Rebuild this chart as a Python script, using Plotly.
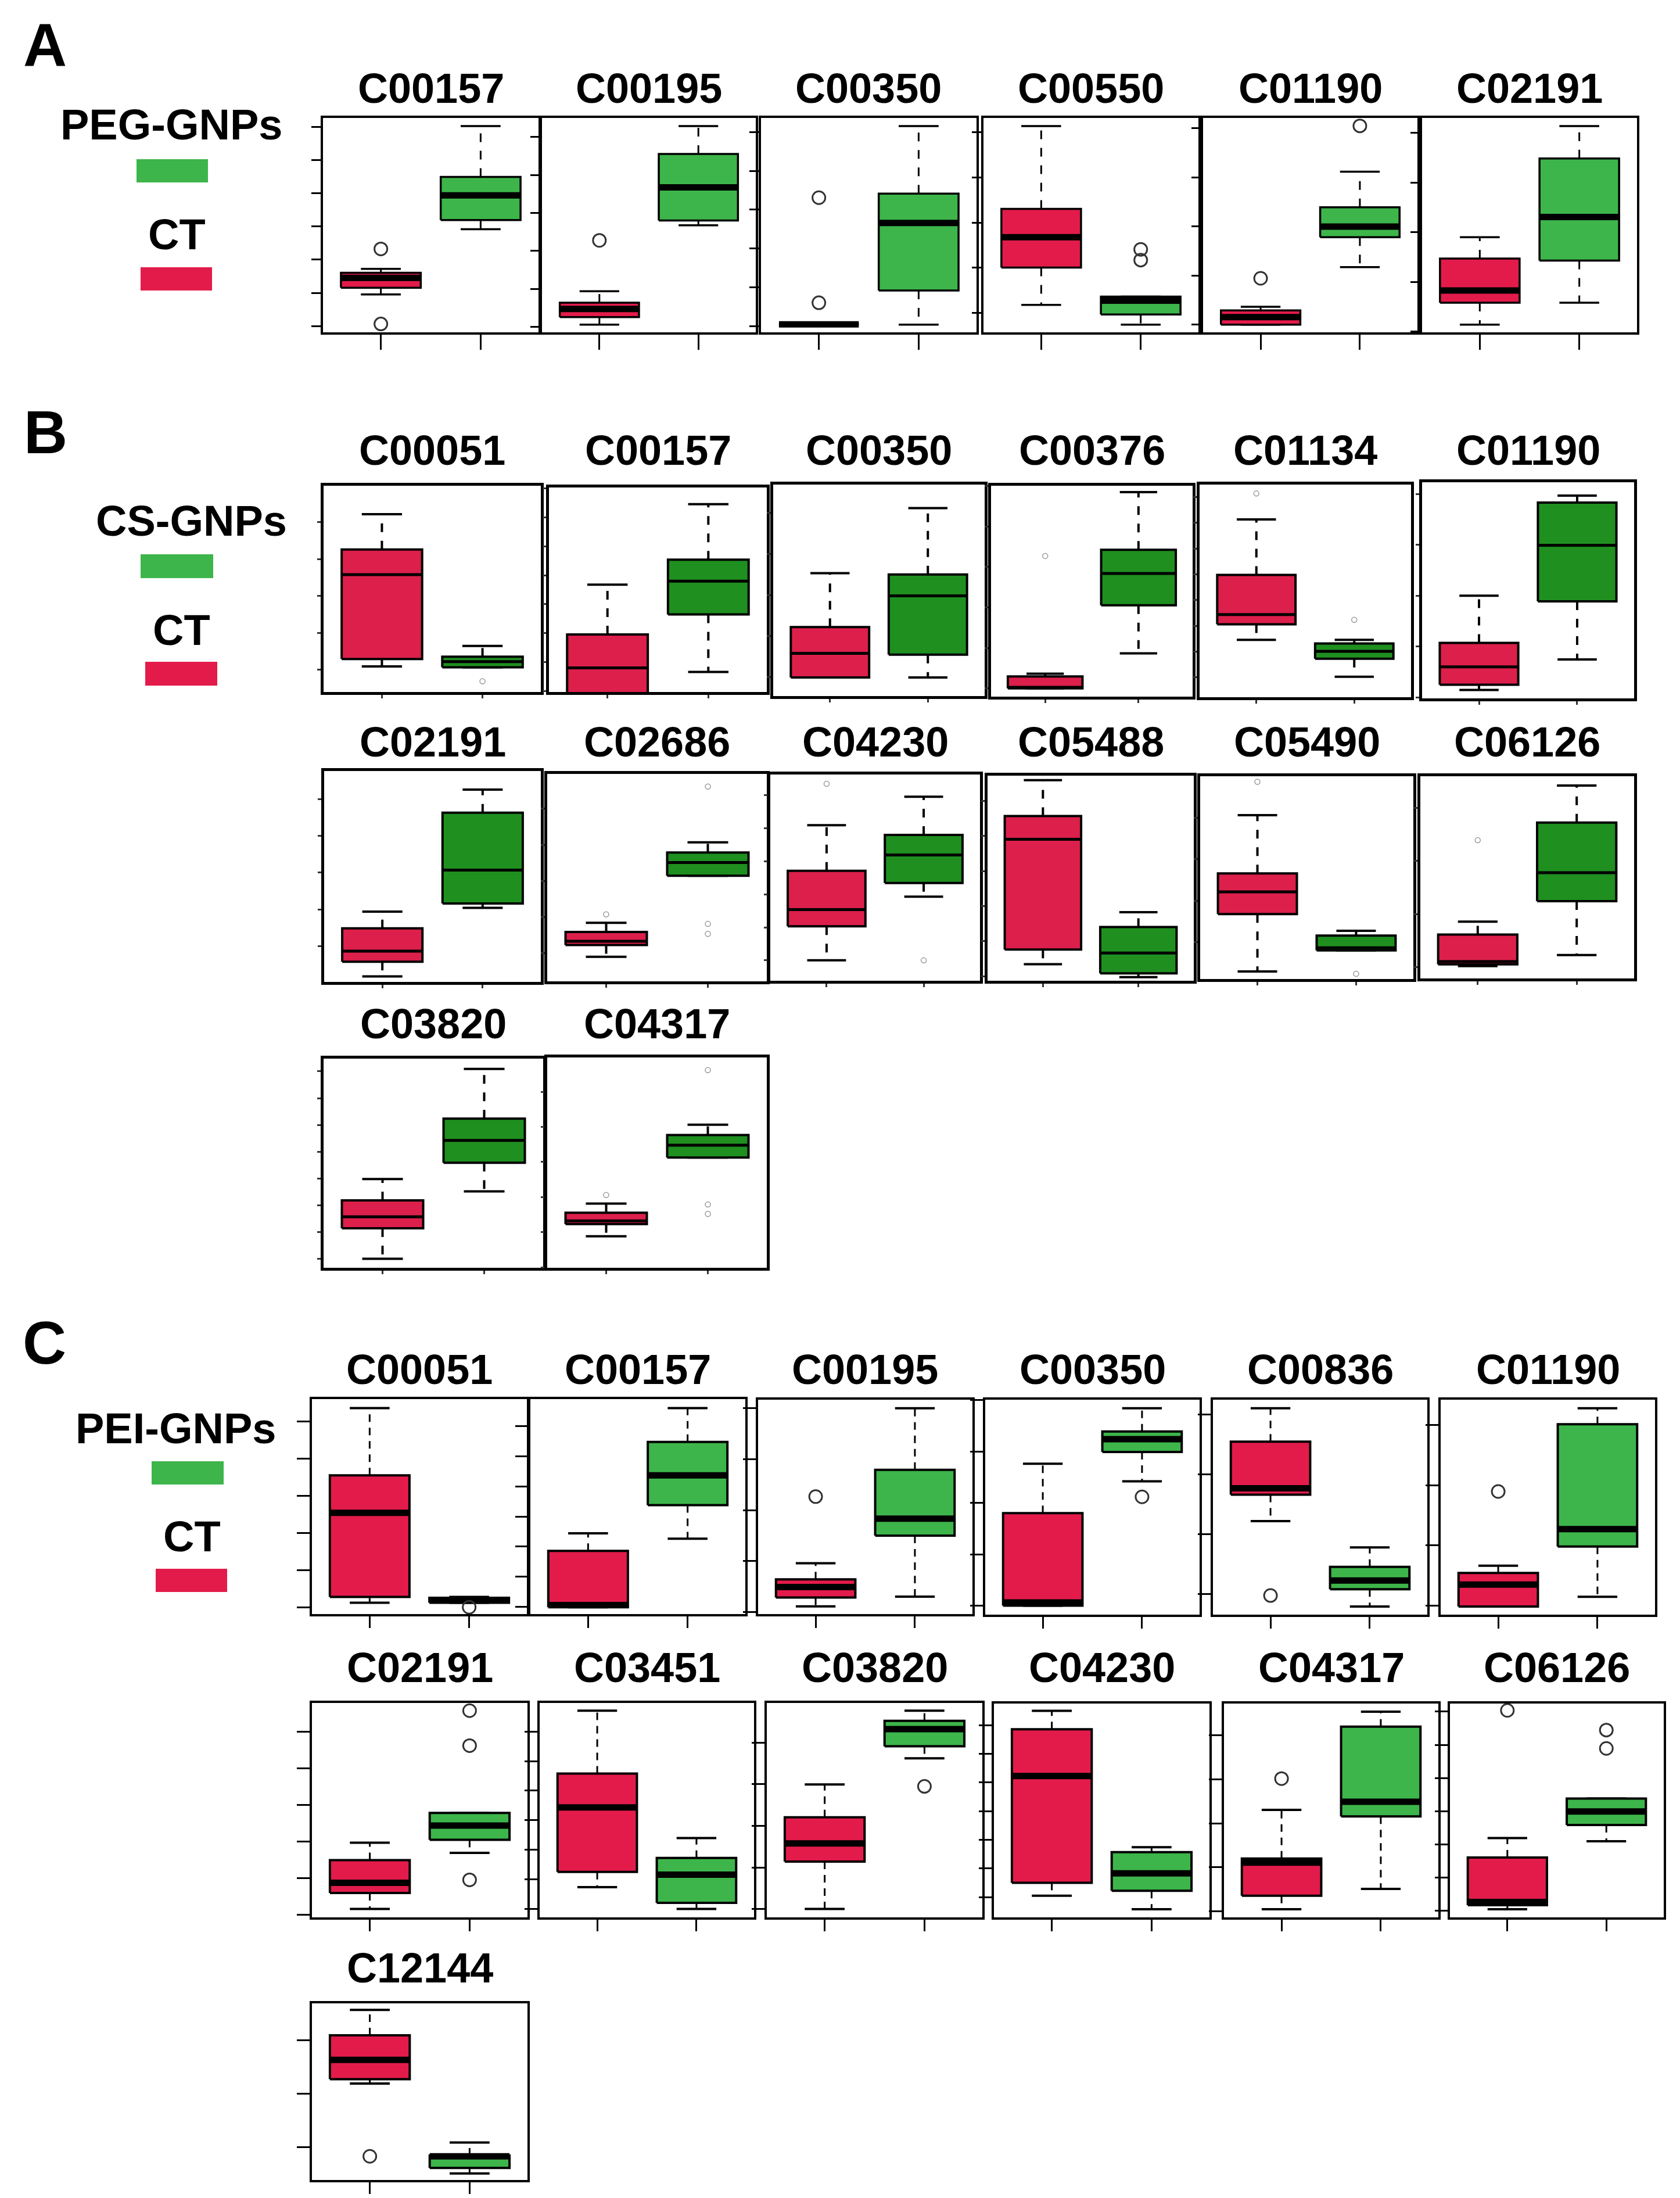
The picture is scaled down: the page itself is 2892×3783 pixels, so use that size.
import plotly.graph_objects as go

W, H = 2892, 3783

# ---------------- data ----------------
# values are read off the picture as % of each panel's y span
# box stats: [lower whisker, Q1, median, Q3, upper whisker]
A_names = ["C00157", "C00195", "C00350", "C00550", "C01190", "C02191"]
A_ct = [[17.7, 20.8, 25.4, 27.8, 29.6],
        [3.6, 7.1, 10.9, 13.8, 19.2],
        [3.7, 3.7, 3.7, 3.7, 3.7],
        [12.8, 30.2, 44.4, 57.6, 96.2],
        [3.6, 3.6, 7.1, 10.2, 11.9],
        [3.6, 13.8, 19.5, 34.4, 44.4]]
A_gnp = [[48.1, 52.4, 63.9, 72.5, 96.2],
         [49.9, 52.2, 67.6, 83.2, 96.2],
         [3.6, 19.5, 51.0, 64.7, 96.2],
         [3.6, 8.3, 14.8, 16.7, 16.7],
         [30.4, 44.4, 49.3, 58.3, 74.9],
         [13.8, 33.5, 53.8, 81.1, 96.2]]
A_ct_out = [[38.9, 3.9], [42.9], [62.8, 13.8], [], [25.2], []]
A_gnp_out = [[], [], [], [38.7, 33.7], [96.3], []]

B_names = ["C00051", "C00157", "C00350", "C00376", "C01134", "C01190",
           "C02191", "C02686", "C04230", "C05488", "C05490", "C06126",
           "C03820", "C04317"]
B_ct = [[12.4, 16.0, 56.9, 69.1, 86.2],
        [-10.0, -5.0, 11.8, 28.1, 52.5],
        [8.8, 8.8, 20.2, 32.6, 58.1],
        [3.9, 3.9, 4.4, 9.6, 10.9],
        [27.0, 34.3, 38.9, 57.5, 83.6],
        [3.9, 6.3, 14.6, 25.7, 47.5],
        [2.6, 9.6, 14.6, 25.4, 33.3],
        [11.8, 17.5, 19.3, 23.8, 28.2],
        [9.9, 26.4, 34.5, 53.3, 75.4],
        [8.1, 15.2, 69.0, 80.3, 97.8],
        [3.7, 32.0, 43.0, 52.1, 80.8],
        [6.1, 7.0, 8.3, 21.7, 28.1],
        [4.3, 18.9, 24.4, 32.2, 42.4],
        [15.0, 20.8, 22.3, 26.2, 30.5]]
B_gnp = [[12.0, 12.0, 14.7, 17.1, 22.3],
         [9.8, 37.9, 54.2, 64.7, 91.8],
         [8.8, 19.6, 47.4, 57.5, 88.9],
         [20.5, 43.3, 58.4, 69.6, 97.0],
         [9.6, 18.1, 21.6, 25.3, 27.0],
         [18.0, 44.9, 70.8, 90.6, 93.8],
         [35.1, 37.2, 53.0, 80.2, 91.2],
         [50.9, 50.9, 57.3, 62.1, 67.0],
         [40.8, 47.4, 61.0, 70.7, 89.2],
         [1.8, 3.6, 13.5, 26.2, 33.4],
         [14.1, 14.1, 15.4, 21.4, 23.8],
         [11.6, 38.2, 52.3, 77.1, 95.4],
         [36.5, 50.2, 60.9, 71.3, 95.1],
         [52.4, 52.4, 58.3, 63.1, 68.0]]
B_ct_out = [[], [], [], [66.7], [95.8], [], [], [32.3], [95.5], [], [97.3], [68.4], [], [34.6]]
B_gnp_out = [[5.2], [], [], [], [36.4], [], [], [93.9, 27.7, 22.9], [9.9], [], [2.6], [], [],
             [94.0, 30.1, 25.6]]

C_names = ["C00051", "C00157", "C00195", "C00350", "C00836", "C01190",
           "C02191", "C03451", "C03820", "C04230", "C04317", "C06126", "C12144"]
C_ct = [[5.3, 8.0, 47.1, 64.5, 95.8],
        [3.2, 3.2, 4.2, 29.4, 37.6],
        [3.6, 7.7, 12.6, 16.2, 23.7],
        [4.2, 4.2, 5.7, 47.2, 70.2],
        [43.5, 55.8, 58.8, 80.5, 96.0],
        [3.8, 3.8, 14.0, 19.4, 22.8],
        [3.9, 11.4, 16.1, 26.7, 34.8],
        [14.1, 21.2, 51.3, 67.1, 96.4],
        [3.9, 26.0, 34.5, 46.7, 62.0],
        [10.1, 16.2, 66.1, 88.0, 96.6],
        [3.8, 10.1, 25.6, 27.5, 50.3],
        [3.8, 5.7, 7.2, 28.0, 37.1],
        [54.6, 57.1, 68.0, 81.9, 96.3]]
C_gnp = [[5.3, 5.3, 6.6, 7.6, 8.0],
         [35.1, 50.7, 64.5, 80.1, 95.8],
         [8.1, 36.6, 44.5, 67.3, 96.0],
         [62.0, 75.7, 81.6, 85.2, 96.0],
         [3.8, 11.8, 15.9, 22.2, 31.3],
         [8.3, 31.7, 39.8, 88.6, 96.0],
         [30.1, 36.2, 42.8, 48.7, 48.7],
         [3.9, 6.8, 19.9, 27.7, 37.0],
         [74.2, 79.8, 87.8, 91.7, 96.4],
         [3.8, 12.4, 20.6, 30.5, 32.8],
         [13.3, 47.2, 54.1, 89.2, 96.2],
         [35.6, 43.2, 49.5, 55.6, 55.6],
         [3.7, 6.8, 13.4, 13.8, 21.2]]
C_ct_out = [[], [], [54.8], [], [8.9], [57.3], [], [], [], [], [64.9], [96.8], [13.4]]
C_gnp_out = [[3.2], [], [], [54.8], [], [], [96.4, 80.1, 17.5], [], [61.1], [], [], [87.6, 79.0], []]

# ---------------- layout geometry (pixels) ----------------
# frame = (x0, x1, y_top, y_bottom), plus the y of the panel title
A_frames = [(548, 919, 195, 564), (925, 1293, 195, 564), (1302, 1673, 195, 564),
            (1685, 2055, 195, 564), (2063, 2432, 195, 564), (2440, 2810, 195, 564)]
A_title_y = [153] * 6
A_ticks = [(2.9, 15.5), (2.6, 17.7), (2.9, 18.1), (9.1, 21.05), (3.6, 22.9), (0.3, 23.2)]

B_frames = [(549, 923, 828, 1183), (937, 1312, 831, 1183), (1323, 1687, 826, 1190),
            (1698, 2045, 828, 1191), (2057, 2421, 826, 1192), (2440, 2805, 822, 1194),
            (550, 923, 1319, 1682), (934, 1312, 1324, 1681), (1318, 1679, 1325, 1680),
            (1692, 2047, 1327, 1680), (2058, 2425, 1328, 1677), (2437, 2805, 1328, 1676),
            (549, 927, 1814, 2174), (934, 1312, 1812, 2174)]
B_title_y = [776] * 6 + [1278] * 6 + [1763] * 2
B_ticks = [(10.8, 17.9), (0.3, 14.2), (8.8, 19.5), (3.9, 19.2), (9.4, 12.1), (0.5, 23.5),
           (17.0, 17.4), (13.6, 17.4), (9.9, 16.0), (19.3, 17.1), (18.1, 20.5), (5.5, 26.3),
           (4.3, 12.8), (16.9, 16.7)]

C_frames = [(529, 899, 2400, 2770), (905, 1275, 2400, 2770), (1297, 1666, 2401, 2770),
            (1688, 2057, 2401, 2771), (2080, 2449, 2401, 2771), (2472, 2841, 2401, 2771),
            (529, 900, 2923, 3292), (921, 1290, 2923, 3292), (1312, 1683, 2923, 3292),
            (1703, 2074, 2924, 3292), (2099, 2468, 2924, 3292), (2488, 2856, 2924, 3292),
            (529, 900, 3440, 3744)]
C_title_y = [2358] * 6 + [2871] * 6 + [3388]
C_ticks = [(3.2, 17.3), (3.4, 14.0), (0.9, 23.8), (4.2, 23.9), (9.5, 27.9), (4.2, 28.0),
           (1.2, 17.1), (3.9, 13.8), (3.9, 19.4), (9.5, 13.4), (2.8, 20.6), (3.2, 15.5),
           (18.6, 30.2)]

RED = "#E31B4B"
GREEN = "#3DB54A"
STYLE_A = dict(green=GREEN, red=RED, box_w=3.5, med_w=11, whisk_w=3, dash="15px,15px",
               out_size=22, out_color="#333333", out_w=3, frame_w=4,
               ytick_len=16, xtick_len=26, tick_w=3, tick_color="#000000")
STYLE_B = dict(green="#1F8F1F", red="#DC1F4B", box_w=4, med_w=5, whisk_w=4, dash="15px,15px",
               out_size=9, out_color="#9a9a9a", out_w=1.5, frame_w=5,
               ytick_len=6, xtick_len=6, tick_w=3, tick_color="#333333")
STYLE_C = dict(STYLE_A, box_w=4, dash="13px,10px", ytick_len=22, xtick_len=20)

FONT = "Liberation Sans, Arial, sans-serif"
TEXT_SHIFT = 9  # plotly centres the text box, not the capitals

fig = go.Figure()
annotations = []
shapes = []
panel_no = [0]


def px(x):
    return x / W


def py(y):
    return 1 - y / H


def draw_box(ax, c, stats, fill, st):
    lo, q1, med, q3, hi = stats
    xa, ya = ax
    # whiskers (dashed)
    fig.add_trace(go.Scatter(x=[c, c, None, c, c], y=[q3, hi, None, q1, lo], mode="lines",
                             line=dict(color="black", width=st["whisk_w"], dash=st["dash"]),
                             xaxis=xa, yaxis=ya, hoverinfo="skip"))
    # staples
    fig.add_trace(go.Scatter(x=[c - 0.2, c + 0.2, None, c - 0.2, c + 0.2], y=[hi, hi, None, lo, lo],
                             mode="lines", line=dict(color="black", width=st["box_w"]),
                             xaxis=xa, yaxis=ya, hoverinfo="skip"))
    # box
    fig.add_trace(go.Scatter(x=[c - 0.4, c + 0.4, c + 0.4, c - 0.4, c - 0.4],
                             y=[q1, q1, q3, q3, q1], mode="lines", fill="toself",
                             fillcolor=fill, line=dict(color="black", width=st["box_w"]),
                             xaxis=xa, yaxis=ya, hoverinfo="skip"))
    # median
    fig.add_trace(go.Scatter(x=[c - 0.4, c + 0.4], y=[med, med], mode="lines",
                             line=dict(color="black", width=st["med_w"]),
                             xaxis=xa, yaxis=ya, hoverinfo="skip"))


def draw_out(ax, c, vals, st):
    if not vals:
        return
    fig.add_trace(go.Scatter(x=[c] * len(vals), y=vals, mode="markers",
                             marker=dict(symbol="circle-open", size=st["out_size"],
                                         color=st["out_color"],
                                         line=dict(width=st["out_w"], color=st["out_color"])),
                             xaxis=ax[0], yaxis=ax[1], hoverinfo="skip", cliponaxis=False))


def add_panel(name, frame, title_y, tick, ct, gnp, ct_out, gnp_out, st):
    panel_no[0] += 1
    k = panel_no[0]
    sfx = "" if k == 1 else str(k)
    ax = ("x" + sfx, "y" + sfx)
    x0, x1, y0, y1 = frame
    fig.layout["xaxis" + sfx] = dict(
        domain=[px(x0), px(x1)], range=[0.42, 2.58], anchor="y" + sfx,
        showline=True, linewidth=st["frame_w"], linecolor="black", mirror=True,
        ticks="outside", tickvals=[1, 2], ticklen=st["xtick_len"], tickwidth=st["tick_w"],
        tickcolor=st["tick_color"], showticklabels=False, showgrid=False, zeroline=False)
    fig.layout["yaxis" + sfx] = dict(
        domain=[py(y1), py(y0)], range=[0, 100], anchor="x" + sfx,
        showline=True, linewidth=st["frame_w"], linecolor="black", mirror=True,
        ticks="outside", tick0=tick[0], dtick=tick[1], ticklen=st["ytick_len"],
        tickwidth=st["tick_w"], tickcolor=st["tick_color"],
        showticklabels=False, showgrid=False, zeroline=False)
    draw_box(ax, 1, ct, st["red"], st)
    draw_box(ax, 2, gnp, st["green"], st)
    draw_out(ax, 1, ct_out, st)
    draw_out(ax, 2, gnp_out, st)
    label(name, (x0 + x1) / 2, title_y, 72)


def label(text, cx, cy, size):
    annotations.append(dict(text="<b>%s</b>" % text, x=px(cx), y=py(cy - TEXT_SHIFT),
                            xref="paper", yref="paper", showarrow=False,
                            xanchor="center", yanchor="middle",
                            font=dict(family=FONT, size=size, color="black")))


def swatch(x0, x1, y0, y1, color):
    shapes.append(dict(type="rect", xref="paper", yref="paper", x0=px(x0), x1=px(x1),
                       y0=py(y1), y1=py(y0), fillcolor=color, line=dict(width=0)))


def add_section(names, frames, title_y, ticks, ct, gnp, ct_out, gnp_out, st):
    for i, nm in enumerate(names):
        add_panel(nm, frames[i], title_y[i], ticks[i], ct[i], gnp[i], ct_out[i], gnp_out[i], st)


add_section(A_names, A_frames, A_title_y, A_ticks, A_ct, A_gnp, A_ct_out, A_gnp_out, STYLE_A)
add_section(B_names, B_frames, B_title_y, B_ticks, B_ct, B_gnp, B_ct_out, B_gnp_out, STYLE_B)
add_section(C_names, C_frames, C_title_y, C_ticks, C_ct, C_gnp, C_ct_out, C_gnp_out, STYLE_C)

# section letters
label("A", 69, 78, 104)
label("B", 70, 745, 104)
label("C", 68, 2312, 104)

# group keys
label("PEG-GNPs", 287, 215, 74)
swatch(227, 350, 266, 306, GREEN)
label("CT", 296, 405, 74)
swatch(234, 357, 452, 492, RED)

label("CS-GNPs", 321, 897, 74)
swatch(234, 359, 946, 987, GREEN)
label("CT", 304, 1085, 74)
swatch(242, 366, 1131, 1172, RED)

label("PEI-GNPs", 294, 2459, 74)
swatch(253, 377, 2507, 2547, GREEN)
label("CT", 322, 2645, 74)
swatch(260, 383, 2692, 2732, RED)

fig.update_layout(width=W, height=H, margin=dict(l=0, r=0, t=0, b=0),
                  paper_bgcolor="white", plot_bgcolor="white", showlegend=False,
                  annotations=annotations, shapes=shapes)
fig.write_html("out.html")
